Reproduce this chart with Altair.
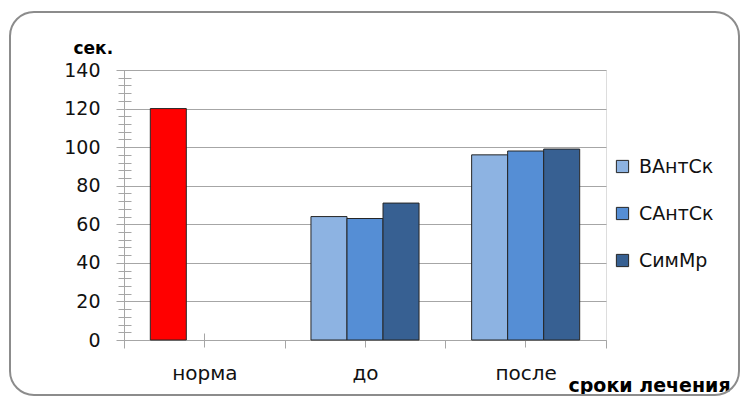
import altair as alt
import pandas as pd

categories = ["норма", "до", "после"]
series = ["ВАнтСк", "САнтСк", "СимМр"]
norma_value = [120]
do_values = [64, 63, 71]
posle_values = [96, 98, 99]
y_major = [0, 20, 40, 60, 80, 100, 120, 140]
y_minor = list(range(0, 141, 4))

rows = [{"cat": "норма", "series": series[0], "value": norma_value[0]}]
for s, v in zip(series, do_values):
    rows.append({"cat": "до", "series": s, "value": v})
for s, v in zip(series, posle_values):
    rows.append({"cat": "после", "series": s, "value": v})
df = pd.DataFrame(rows)

colors = ["#8db3e2", "#558ed5", "#376092"]
FONT = "DejaVu Sans"
GRID = "#a6a6a6"

xscale = alt.Scale(domain=categories, paddingInner=0, paddingOuter=0)
yscale = alt.Scale(domain=[0, 140], nice=False)

bars = alt.Chart(df).mark_bar(stroke="#262626", strokeWidth=1).encode(
    x=alt.X("cat:N", sort=categories, scale=xscale,
            axis=alt.Axis(orient="bottom", title="сроки лечения", tickBand="extent",
                          labelFontSize=20, labelFont=FONT, labelColor="#111",
                          labelPadding=31, labelAngle=0, labelBaseline="alphabetic",
                          domainColor=GRID, tickColor=GRID, tickSize=8, grid=False,
                          titleFont=FONT, titleFontSize=19, titleFontWeight="bold",
                          titleColor="#000", titleAlign="left", titleBaseline="alphabetic",
                          titleX=444, titleY=51)),
    xOffset=alt.XOffset("series:N", sort=series,
                        scale=alt.Scale(domain=series, paddingInner=0, paddingOuter=0.73)),
    y=alt.Y("value:Q", scale=yscale,
            axis=alt.Axis(orient="left", values=y_major, title="сек.", titleAngle=0,
                          titleAlign="left", titleBaseline="alphabetic",
                          titleX=-51, titleY=-17, titleFont=FONT, titleFontSize=17,
                          titleFontWeight="bold", titleColor="#000",
                          labelFontSize=19, labelFont=FONT, labelColor="#111",
                          labelPadding=16, tickSize=8, tickColor=GRID,
                          domainColor=GRID, grid=True, gridColor=GRID, gridWidth=1.2)),
    color=alt.condition(
        "datum.cat == 'норма'",
        alt.value("#ff0000"),
        alt.Color("series:N", sort=series,
                  scale=alt.Scale(domain=series, range=colors),
                  legend=alt.Legend(orient="none", legendX=489, legendY=87, title=None,
                                    symbolType="square", symbolSize=150,
                                    symbolStrokeColor="#262626", symbolStrokeWidth=1,
                                    labelFontSize=19, labelFont=FONT, labelColor="#111",
                                    rowPadding=27, labelOffset=7)),
    ),
)

minor = alt.Chart(df).mark_point(opacity=0).encode(
    x=alt.X("cat:N", sort=categories, scale=xscale,
            axis=alt.Axis(orient="bottom", labels=False, title=None, domain=False,
                          tickSize=14, tickColor=GRID, grid=False, offset=-7)),
    y=alt.Y("value:Q", scale=yscale,
            axis=alt.Axis(orient="left", values=y_minor, labels=False, title=None,
                          domain=False, grid=False, tickSize=13, tickColor=GRID,
                          offset=-7)),
)

border = alt.Chart(pd.DataFrame({"a": [0]})).mark_rect(
    fill=None, filled=False, stroke="#8c8c8c", strokeWidth=2, cornerRadius=24
).encode(x=alt.value(-114), x2=alt.value(615), y=alt.value(-58), y2=alt.value(325))

chart = alt.layer(border, minor, bars).resolve_axis(
    x="independent", y="independent"
).properties(
    width=482, height=270,
    padding={"left": 116, "top": 62, "right": 135, "bottom": 58},
    autosize=alt.AutoSizeParams(type="none"),
).configure_view(strokeWidth=0).configure(background="white")

chart.save("out.html", embed_options={"renderer": "svg", "actions": False})
